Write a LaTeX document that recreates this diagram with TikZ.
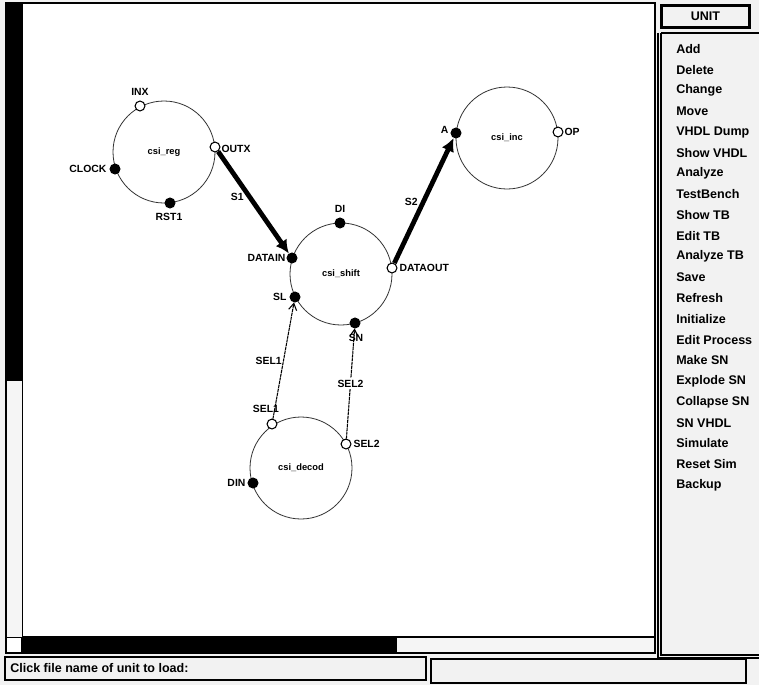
\documentclass[tikz,border=0pt]{standalone}
\usepackage{fontspec}
\setmainfont{Liberation Sans}
\usetikzlibrary{arrows.meta}
\begin{document}
\begin{tikzpicture}[x=0.75pt,y=-0.75pt,
  proc/.style={circle,draw=black!80,line width=0.6pt,minimum size=76.5pt,inner sep=0pt,
    font=\bfseries\fontsize{7}{8}\selectfont},
  port/.style={circle,draw,line width=0.8pt,minimum size=7.4pt,inner sep=0pt},
  inport/.style={port,fill=black},
  outport/.style={port,fill=white},
  lbl/.style={font=\bfseries\fontsize{7.8}{9}\selectfont,inner sep=1pt},
  bus/.style={line width=3.6pt,-{Latex[length=10pt,width=10pt]}},
  wire/.style={line width=0.8pt,dash pattern=on 2.4pt off 0.5pt,-{Straight Barb[length=5pt,width=6pt]}},
  menuitem/.style={anchor=west,inner sep=0pt,font=\bfseries\fontsize{9.4}{11}\selectfont},
  frame/.style={draw=black,line width=1.2pt}]

% window background
\useasboundingbox (0,0) rectangle (759,685);
\fill[black!5] (0,0) rectangle (759,685);

% drawing canvas with its scrollbars
\fill[white] (6,3) rectangle (655,653);
\draw[frame] (6,3) rectangle (655,653);
\draw[line width=0.8pt] (22,3) -- (22,637);
\draw[line width=0.8pt] (6,637) -- (655,637);
\fill[black!4] (7,381) rectangle (22,637);
\fill[black] (7,4) rectangle (22,381);
\fill[black!4] (22,638) rectangle (654,652);
\fill[black] (22,638) rectangle (397,652);
\draw[line width=0.8pt] (22,637) -- (22,653);

% command panel
\node[draw,line width=1.6pt,fill=white!95!black,minimum width=66pt,minimum height=16.5pt,
  font=\bfseries\fontsize{9.4}{11}\selectfont] (unit) at (705.5,16.5) {UNIT};
\draw[line width=1.6pt] (661,33) -- (759,33);
\draw[line width=1.2pt] (658,33) -- (658,658) -- (759,658);
\draw[line width=0.8pt] (661,33) -- (661,655) -- (759,655);

\foreach \t [count=\i from 0] in {Add,Delete,Change,Move,VHDL Dump,Show VHDL,Analyze,TestBench,Show TB,Edit TB,Analyze TB,Save,Refresh,Initialize,Edit Process,Make SN,Explode SN,Collapse SN,SN VHDL,Simulate,Reset Sim,Backup}
  \node[menuitem] (m\i) at (676,49+20.76*\i) {\t};

% status line
\draw[line width=1.2pt] (5,657) rectangle (426,680);
\node[menuitem] (status) at (10,668) {Click file name of unit to load:};
\draw[line width=2pt] (431,659) rectangle (746,683);

% processes
\node[proc] (reg) at (164,152) {csi\_reg};
\node[proc] (shift) at (341,274) {csi\_shift};
\node[proc] (inc) at (507,138) {csi\_inc};
\node[proc] (decod) at (301,468) {csi\_decod};

% ports of csi_reg
\node[outport] (inx) at (140,106) {};
\node[outport] (outx) at (215,147) {};
\node[inport] (clock) at (115,169) {};
\node[inport] (rst1) at (170,203) {};
\node[lbl] at (140,92) {INX};
\node[lbl,anchor=west] at (220,149) {OUTX};
\node[lbl,anchor=east] at (108,169) {CLOCK};
\node[lbl] at (169,217) {RST1};

% ports of csi_shift
\node[inport] (di) at (340,223) {};
\node[inport] (datain) at (292,258) {};
\node[inport] (sl) at (295,297) {};
\node[inport] (sn) at (355,323) {};
\node[outport] (dataout) at (392,268) {};
\node[lbl] at (340,209) {DI};
\node[lbl,anchor=east] at (287,258) {DATAIN};
\node[lbl,anchor=east] at (288,297) {SL};
\node[lbl] at (356,338) {SN};
\node[lbl,anchor=west] at (398,268) {DATAOUT};

% ports of csi_inc
\node[inport] (a) at (456,133) {};
\node[outport] (op) at (558,132) {};
\node[lbl,anchor=east] at (450,130) {A};
\node[lbl,anchor=west] at (563,132) {OP};

% ports of csi_decod
\node[outport] (sel1) at (272,424) {};
\node[outport] (sel2) at (346,444) {};
\node[inport] (din) at (253,483) {};
\node[lbl] at (266,409) {SEL1};
\node[lbl,anchor=west] at (352,444) {SEL2};
\node[lbl,anchor=east] at (247,483) {DIN};

% signals
\draw[bus] (outx) -- (datain) node[lbl,pos=0.45,left=2pt] {S1};
\draw[bus] (dataout) -- (a) node[lbl,pos=0.49,left=1.5pt] {S2};
\draw[wire] (sel1) -- (sl) node[lbl,pos=0.5,left=0pt] {SEL1};
\draw[wire] (sel2) -- (sn) node[lbl,pos=0.5,fill=white] {SEL2};
\end{tikzpicture}
\end{document}
